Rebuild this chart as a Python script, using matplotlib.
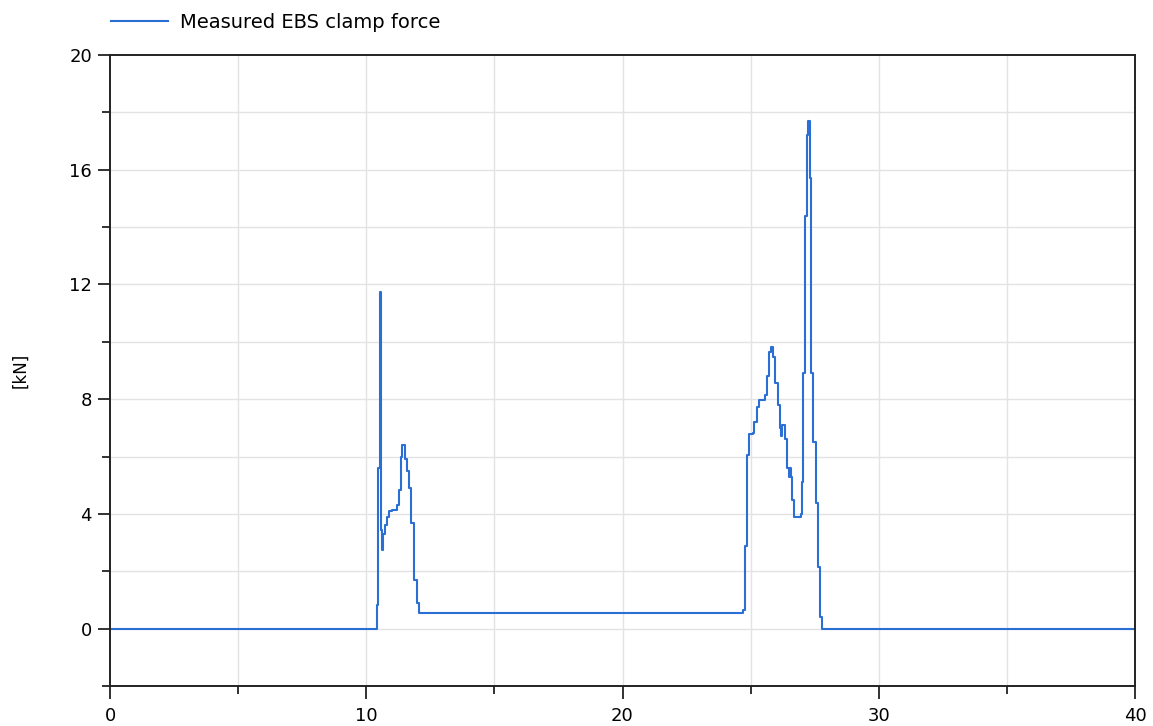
import matplotlib
matplotlib.use("Agg")
import matplotlib.pyplot as plt
from matplotlib.ticker import FixedLocator, NullFormatter

# time [s] and measured clamp force [kN] (step samples)
time_s = [0.0, 10.41, 10.45, 10.53, 10.57, 10.59, 10.62, 10.66, 10.72, 10.80, 10.88,
          11.00, 11.19, 11.28, 11.34, 11.38, 11.51, 11.59, 11.67, 11.76, 11.85, 11.98,
          12.05, 24.71, 24.77, 24.86, 24.93, 25.08, 25.15, 25.25, 25.33, 25.55, 25.64,
          25.72, 25.79, 25.88, 25.97, 26.07, 26.14, 26.20, 26.24, 26.33, 26.42, 26.50,
          26.55, 26.58, 26.63, 26.70, 26.98, 27.02, 27.06, 27.11, 27.20, 27.25, 27.33,
          27.37, 27.44, 27.57, 27.63, 27.72, 27.80, 27.88, 40.0]
force_kn = [0.0, 0.82, 5.6, 11.75, 9.4, 3.44, 2.74, 3.3, 3.6, 3.9, 4.1,
            4.15, 4.3, 4.83, 5.98, 6.4, 5.9, 5.5, 4.9, 3.7, 1.7, 0.9,
            0.55, 0.66, 2.87, 6.05, 6.77, 6.83, 7.2, 7.72, 7.96, 8.14, 8.8,
            9.64, 9.82, 9.46, 8.56, 7.8, 7.0, 6.7, 7.1, 6.6, 5.6, 5.27,
            5.6, 5.27, 4.5, 3.9, 4.0, 5.1, 8.9, 14.4, 17.2, 17.7, 15.7,
            8.9, 6.5, 4.37, 2.16, 0.42, 0.0, 0.0, 0.0]

series_label = "Measured EBS clamp force"
y_label = "[kN]"
x_major = [0, 10, 20, 30, 40]
y_major = [0, 4, 8, 12, 16, 20]

plt.rcParams['font.family'] = ['DejaVu Sans']
fig = plt.figure(figsize=(11.53, 7.26), dpi=100)
ax = fig.add_axes([110/1153, 40/726, 1025/1153, 631/726])

line, = ax.plot(time_s, force_kn, drawstyle='steps-post', color='#2b6fd4', lw=1.5,
                label=series_label)

ax.set_xlim(0, 40)
ax.set_ylim(-2, 20)
ax.xaxis.set_major_locator(FixedLocator(x_major))
ax.xaxis.set_minor_locator(FixedLocator([5, 15, 25, 35]))
ax.yaxis.set_major_locator(FixedLocator(y_major))
ax.yaxis.set_minor_locator(FixedLocator([-2, 2, 6, 10, 14, 18]))
ax.xaxis.set_minor_formatter(NullFormatter())
ax.yaxis.set_minor_formatter(NullFormatter())

for xv in range(5, 40, 5):
    ax.axvline(xv, color='#e3e3e3', lw=1.0, zorder=0)
for yv in range(0, 20, 2):
    ax.axhline(yv, color='#e3e3e3', lw=1.0, zorder=0)

ax.tick_params(which='major', length=9, width=1.3, labelsize=13, pad=4, color='#222222')
ax.tick_params(which='minor', length=6, width=1.3, color='#222222')
ax.tick_params(axis='x', which='major', pad=6)
for s in ax.spines.values():
    s.set_color('#222222')
    s.set_linewidth(1.4)

ax.set_ylabel(y_label, fontsize=12)
ax.yaxis.set_label_coords(-0.079, 0.5)

fig.legend(handles=[line], loc='center left', bbox_to_anchor=(103/1153, 1 - 22/726),
           frameon=False, fontsize=14, handlelength=2.95, handletextpad=0.6,
           borderaxespad=0.0)

fig.savefig("out.png", dpi=100)
